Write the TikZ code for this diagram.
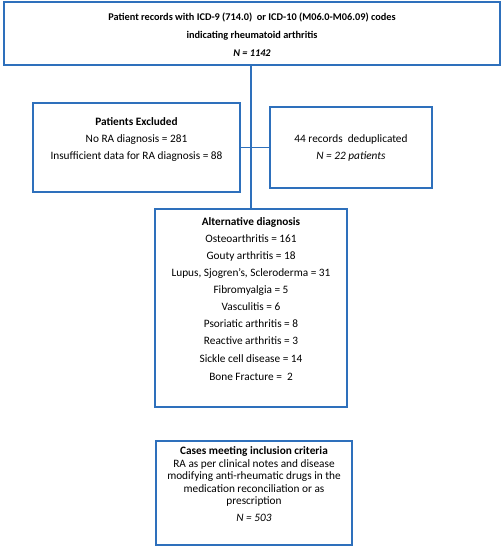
\documentclass[tikz,border=0pt]{standalone}
\usepackage{fontspec}
\setmainfont{Carlito}
\definecolor{bblue}{RGB}{46,112,188}
\begin{document}
\begin{tikzpicture}[x=1pt,y=-1pt,
  box/.style={draw=bblue,line width=1.8pt,inner sep=0pt,fill=white},
  conn/.style={draw=bblue,line width=1.8pt},
  txt/.style={anchor=base,inner sep=0pt,font=\fontsize{11.3}{13}\selectfont},
  ttxt/.style={anchor=base,inner sep=0pt,font=\fontsize{10.3}{12}\selectfont}]
\useasboundingbox (0,0) rectangle (503,550);
% boxes
\node[box,minimum width=496,minimum height=63] (top) at (252,33.5) {};
\node[box,minimum width=207,minimum height=89] (pe) at (136.5,147.5) {};
\node[box,minimum width=162,minimum height=81] (dd) at (351,147.5) {};
\node[box,minimum width=192,minimum height=198] (alt) at (251,308) {};
\node[box,minimum width=196,minimum height=104] (inc) at (254,493) {};
% connectors
\draw[conn] (pe.east) -- (dd.west);
\draw[conn] (top.south -| alt.north) -- (alt.north);
% top text
\node[ttxt] (t1) at (252,20.5) {\textbf{Patient records with ICD-9 (714.0)\ \ or ICD-10 (M06.0-M06.09) codes}};
\node[ttxt] (t2) at (252,38.5) {\textbf{indicating rheumatoid arthritis}};
\node[ttxt] (t3) at (252,56.5) {\textbf{\textit{N = 1142}}};
% patients excluded
\node[txt] (p1) at (136.5,125.5) {\textbf{Patients Excluded}};
\node[txt] (p2) at (136.5,142.5) {No RA diagnosis = 281};
\node[txt] (p3) at (136.5,159.5) {Insufficient data for RA diagnosis = 88};
% dedup
\node[txt] (d1) at (351,142.5) {44 records\ \ deduplicated};
\node[txt] (d2) at (351,159.5) {\textit{N = 22 patients}};
% alternative
\node[txt] (a0) at (251,225.5) {\textbf{Alternative diagnosis}};
\node[txt] (a1) at (251,242.5) {Osteoarthritis = 161};
\node[txt] (a2) at (251,259.5) {Gouty arthritis = 18};
\node[txt] (a3) at (251,276.5) {Lupus, Sjogren's, Scleroderma = 31};
\node[txt] (a4) at (251,293.5) {Fibromyalgia = 5};
\node[txt] (a5) at (251,310.5) {Vasculitis = 6};
\node[txt] (a6) at (251,327.5) {Psoriatic arthritis = 8};
\node[txt] (a7) at (251,344.5) {Reactive arthritis = 3};
\node[txt] (a8) at (251,362.5) {Sickle cell disease = 14};
\node[txt] (a9) at (251,380.5) {Bone Fracture =\ \ 2};
% inclusion
\node[txt] (i0) at (254,454.5) {\textbf{Cases meeting inclusion criteria}};
\node[txt] (i1) at (254,467) {RA as per clinical notes and disease};
\node[txt] (i2) at (254,479.5) {modifying anti-rheumatic drugs in the};
\node[txt] (i3) at (254,492) {medication reconciliation or as};
\node[txt] (i4) at (254,504) {prescription};
\node[txt] (i5) at (254,521.5) {\textit{N = 503}};
\end{tikzpicture}
\end{document}
